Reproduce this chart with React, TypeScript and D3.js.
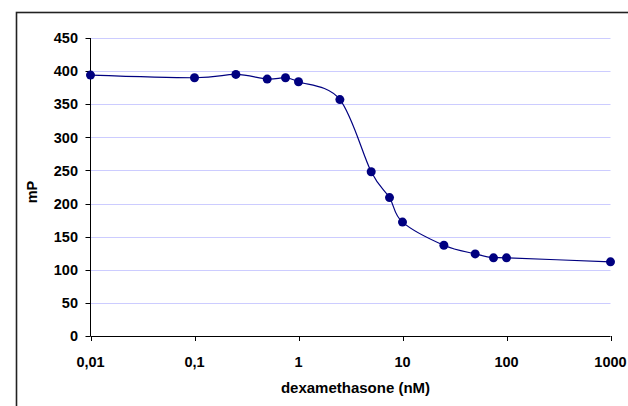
import React from "react";
import * as d3 from "d3";

const concentrations = [0.01, 0.1, 0.25, 0.5, 0.75, 1, 2.5, 5, 7.5, 10, 25, 50, 75, 100, 1000];
const mpValues = [394, 390, 395, 388, 390, 384, 357, 248, 209, 172, 137, 124, 118, 118, 112];
const yTicks = [0, 50, 100, 150, 200, 250, 300, 350, 400, 450];
const xTicks = [0.01, 0.1, 1, 10, 100, 1000];
const xTickLabels = ["0,01", "0,1", "1", "10", "100", "1000"];

const W = 628;
const H = 406;
const left = 90.5;
const right = 610.5;
const top = 38;
const bottom = 336;

export default function App() {
  const x = d3.scaleLog().domain([0.01, 1000]).range([left, right]);
  const y = d3.scaleLinear().domain([0, 450]).range([bottom, top]);
  const data = concentrations.map((c, i) => [c, mpValues[i]] as [number, number]);
  const line = d3
    .line<[number, number]>()
    .x((d) => x(d[0]))
    .y((d) => y(d[1]))
    .curve(d3.curveCardinal.tension(0));
  const font = "'Liberation Sans', Arial, sans-serif";
  return (
    <svg
      width={W}
      height={H}
      style={{ position: "absolute", left: 0, top: 0, background: "#fff" }}
      fontFamily={font}
    >
      <rect x={0} y={0} width={W} height={H} fill="#fff" />
      <rect x={16.5} y={12.5} width={640} height={420} fill="none" stroke="#222" strokeWidth={1.6} />
      {yTicks.filter((t) => t > 0).map((t) => (
        <line key={"g" + t} x1={left} x2={right} y1={Math.round(y(t)) + 0.5} y2={Math.round(y(t)) + 0.5} stroke="#ccccff" strokeWidth={1} />
      ))}
      <line x1={left} x2={left} y1={top} y2={bottom} stroke="#000" strokeWidth={1} />
      <line x1={left} x2={right} y1={bottom + 0.5} y2={bottom + 0.5} stroke="#000" strokeWidth={1} />
      {yTicks.map((t) => (
        <g key={"y" + t}>
          <line x1={left - 5} x2={left} y1={Math.round(y(t)) + 0.5} y2={Math.round(y(t)) + 0.5} stroke="#000" />
          <text x={78} y={y(t)} dy="0.36em" textAnchor="end" fontSize={14.5} fontWeight="bold" fill="#000">
            {t}
          </text>
        </g>
      ))}
      {xTicks.map((t, i) => (
        <g key={"x" + t}>
          <line x1={Math.round(x(t)) + 0.5} x2={Math.round(x(t)) + 0.5} y1={bottom} y2={bottom + 5} stroke="#000" />
          <text x={x(t)} y={367} textAnchor="middle" fontSize={14.5} fontWeight="bold" fill="#000">
            {xTickLabels[i]}
          </text>
        </g>
      ))}
      <path d={line(data) || ""} fill="none" stroke="#000080" strokeWidth={1.2} />
      {data.map((d, i) => (
        <circle key={"p" + i} cx={x(d[0])} cy={y(d[1])} r={4.5} fill="#000080" />
      ))}
      <text x={355.5} y={393} textAnchor="middle" fontSize={15} fontWeight="bold" fill="#000">
        dexamethasone (nM)
      </text>
      <text transform="translate(37,192) rotate(-90)" textAnchor="middle" fontSize={14.5} fontWeight="bold" fill="#000">
        mP
      </text>
    </svg>
  );
}
